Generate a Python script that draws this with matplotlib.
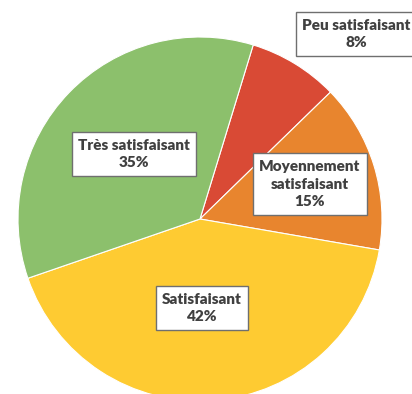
import matplotlib
matplotlib.use("Agg")
import matplotlib.pyplot as plt

labels = ["Peu satisfaisant", "Moyennement\nsatisfaisant", "Satisfaisant", "Très satisfaisant"]
shares = [8, 15, 42, 35]
colors = ["#D94A35", "#E8852E", "#FECB32", "#8CC06C"]
# label box centres, in pixels from the top-left corner
label_pos = [(356, 34), (310, 184), (202, 308), (134, 154)]

W, H = 412, 394
fig = plt.figure(figsize=(W / 100, H / 100), dpi=100)
ax = fig.add_axes([0, 0, 1, 1])

cx, cy, r = 200, H - 219, 182
ax.pie(shares, colors=colors, startangle=73, counterclock=False,
       center=(cx, cy), radius=r, frame=True,
       wedgeprops=dict(edgecolor="white", linewidth=0.8))
ax.set_xlim(0, W)
ax.set_ylim(0, H)
ax.set_aspect("equal")
ax.axis("off")

for lab, val, (x, y) in zip(labels, shares, label_pos):
    ax.text(x, H - y, f"{lab}\n{val}%", ha="center", va="center",
            fontsize=11, fontweight="heavy", family="Lato", color="#404040",
            linespacing=1.45,
            bbox=dict(boxstyle="square,pad=0.4", facecolor="white",
                      edgecolor="#6f6f6f", linewidth=1))

fig.savefig("out.png", dpi=100)
